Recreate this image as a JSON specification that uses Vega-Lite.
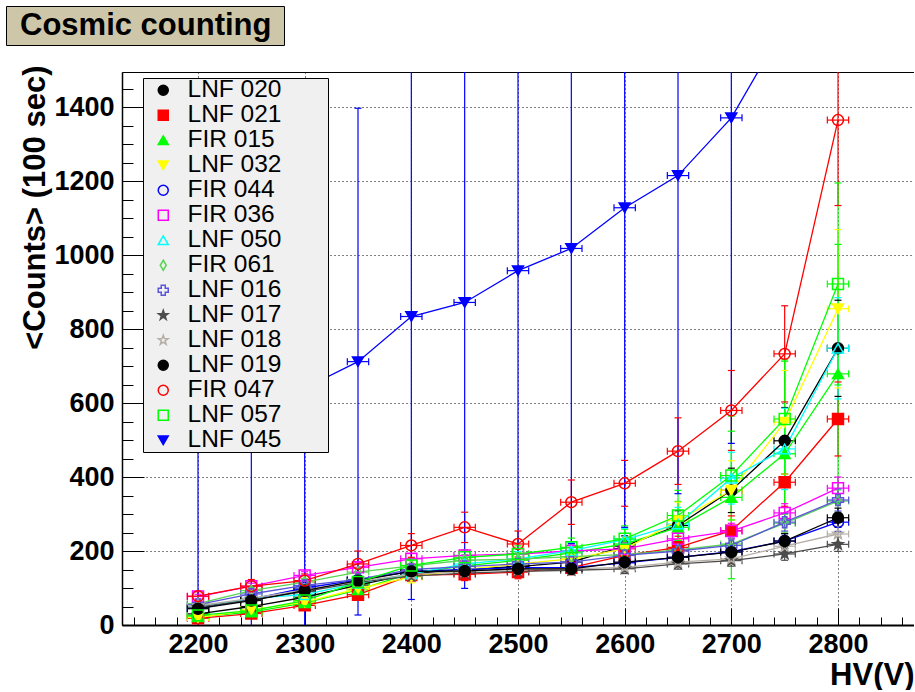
{
  "$schema": "https://vega.github.io/schema/vega-lite/v6.json",
  "padding": {"left": 5, "top": 5, "right": 0, "bottom": 0},
  "background": "white",
  "width": 792,
  "height": 553,
  "view": {"stroke": "black", "strokeWidth": 1},
  "datasets": {
    "pts": [
      {"s":"LNF 020","hv":2200,"v":30,"e":6},{"s":"LNF 020","hv":2250,"v":50,"e":8},{"s":"LNF 020","hv":2300,"v":75,"e":10},{"s":"LNF 020","hv":2350,"v":108,"e":13},{"s":"LNF 020","hv":2400,"v":138,"e":16},{"s":"LNF 020","hv":2450,"v":150,"e":18},{"s":"LNF 020","hv":2500,"v":158,"e":19},{"s":"LNF 020","hv":2550,"v":170,"e":20},{"s":"LNF 020","hv":2600,"v":213,"e":28},{"s":"LNF 020","hv":2650,"v":269,"e":40},{"s":"LNF 020","hv":2700,"v":364,"e":60},{"s":"LNF 020","hv":2750,"v":498,"e":90},{"s":"LNF 020","hv":2800,"v":748,"e":130},
      {"s":"LNF 021","hv":2200,"v":18,"e":5},{"s":"LNF 021","hv":2250,"v":31,"e":7},{"s":"LNF 021","hv":2300,"v":53,"e":9},{"s":"LNF 021","hv":2350,"v":82,"e":12},{"s":"LNF 021","hv":2400,"v":135,"e":16},{"s":"LNF 021","hv":2450,"v":137,"e":17},{"s":"LNF 021","hv":2500,"v":143,"e":18},{"s":"LNF 021","hv":2550,"v":155,"e":19},{"s":"LNF 021","hv":2600,"v":188,"e":24},{"s":"LNF 021","hv":2650,"v":210,"e":30},{"s":"LNF 021","hv":2700,"v":255,"e":40},{"s":"LNF 021","hv":2750,"v":386,"e":65},{"s":"LNF 021","hv":2800,"v":557,"e":100},
      {"s":"FIR 015","hv":2200,"v":22,"e":6},{"s":"FIR 015","hv":2250,"v":35,"e":8},{"s":"FIR 015","hv":2300,"v":60,"e":11},{"s":"FIR 015","hv":2350,"v":95,"e":14},{"s":"FIR 015","hv":2400,"v":140,"e":18},{"s":"FIR 015","hv":2450,"v":160,"e":20},{"s":"FIR 015","hv":2500,"v":175,"e":22},{"s":"FIR 015","hv":2550,"v":195,"e":25},{"s":"FIR 015","hv":2600,"v":219,"e":40},{"s":"FIR 015","hv":2650,"v":264,"e":70},{"s":"FIR 015","hv":2700,"v":345,"e":220},{"s":"FIR 015","hv":2750,"v":463,"e":250},{"s":"FIR 015","hv":2800,"v":679,"e":350},
      {"s":"LNF 032","hv":2200,"v":20,"e":6},{"s":"LNF 032","hv":2250,"v":41,"e":8},{"s":"LNF 032","hv":2300,"v":62,"e":10},{"s":"LNF 032","hv":2350,"v":98,"e":13},{"s":"LNF 032","hv":2400,"v":130,"e":16},{"s":"LNF 032","hv":2450,"v":150,"e":18},{"s":"LNF 032","hv":2500,"v":165,"e":20},{"s":"LNF 032","hv":2550,"v":179,"e":22},{"s":"LNF 032","hv":2600,"v":206,"e":30},{"s":"LNF 032","hv":2650,"v":282,"e":50},{"s":"LNF 032","hv":2700,"v":364,"e":80},{"s":"LNF 032","hv":2750,"v":548,"e":140},{"s":"LNF 032","hv":2800,"v":855,"e":214},
      {"s":"FIR 044","hv":2200,"v":45,"e":5},{"s":"FIR 044","hv":2250,"v":70,"e":6},{"s":"FIR 044","hv":2300,"v":100,"e":8},{"s":"FIR 044","hv":2350,"v":122,"e":10},{"s":"FIR 044","hv":2400,"v":145,"e":12},{"s":"FIR 044","hv":2450,"v":150,"e":12},{"s":"FIR 044","hv":2500,"v":155,"e":13},{"s":"FIR 044","hv":2550,"v":155,"e":13},{"s":"FIR 044","hv":2600,"v":168,"e":14},{"s":"FIR 044","hv":2650,"v":183,"e":16},{"s":"FIR 044","hv":2700,"v":198,"e":18},{"s":"FIR 044","hv":2750,"v":227,"e":20},{"s":"FIR 044","hv":2800,"v":278,"e":25},
      {"s":"FIR 036","hv":2200,"v":77,"e":6},{"s":"FIR 036","hv":2250,"v":105,"e":8},{"s":"FIR 036","hv":2300,"v":134,"e":10},{"s":"FIR 036","hv":2350,"v":156,"e":12},{"s":"FIR 036","hv":2400,"v":179,"e":14},{"s":"FIR 036","hv":2450,"v":188,"e":15},{"s":"FIR 036","hv":2500,"v":192,"e":15},{"s":"FIR 036","hv":2550,"v":200,"e":16},{"s":"FIR 036","hv":2600,"v":206,"e":17},{"s":"FIR 036","hv":2650,"v":233,"e":19},{"s":"FIR 036","hv":2700,"v":254,"e":21},{"s":"FIR 036","hv":2750,"v":303,"e":25},{"s":"FIR 036","hv":2800,"v":370,"e":30},
      {"s":"LNF 050","hv":2200,"v":48,"e":6},{"s":"LNF 050","hv":2250,"v":72,"e":8},{"s":"LNF 050","hv":2300,"v":82,"e":10},{"s":"LNF 050","hv":2350,"v":113,"e":13},{"s":"LNF 050","hv":2400,"v":138,"e":16},{"s":"LNF 050","hv":2450,"v":165,"e":18},{"s":"LNF 050","hv":2500,"v":179,"e":20},{"s":"LNF 050","hv":2550,"v":201,"e":22},{"s":"LNF 050","hv":2600,"v":231,"e":30},{"s":"LNF 050","hv":2650,"v":273,"e":45},{"s":"LNF 050","hv":2700,"v":397,"e":70},{"s":"LNF 050","hv":2750,"v":476,"e":110},{"s":"LNF 050","hv":2800,"v":748,"e":137},
      {"s":"FIR 061","hv":2200,"v":58,"e":6},{"s":"FIR 061","hv":2250,"v":93,"e":8},{"s":"FIR 061","hv":2300,"v":116,"e":10},{"s":"FIR 061","hv":2350,"v":143,"e":12},{"s":"FIR 061","hv":2400,"v":160,"e":14},{"s":"FIR 061","hv":2450,"v":175,"e":15},{"s":"FIR 061","hv":2500,"v":178,"e":15},{"s":"FIR 061","hv":2550,"v":185,"e":16},{"s":"FIR 061","hv":2600,"v":190,"e":16},{"s":"FIR 061","hv":2650,"v":203,"e":18},{"s":"FIR 061","hv":2700,"v":219,"e":20},{"s":"FIR 061","hv":2750,"v":275,"e":24},{"s":"FIR 061","hv":2800,"v":335,"e":30},
      {"s":"LNF 016","hv":2200,"v":55,"e":6},{"s":"LNF 016","hv":2250,"v":84,"e":8},{"s":"LNF 016","hv":2300,"v":107,"e":9},{"s":"LNF 016","hv":2350,"v":123,"e":11},{"s":"LNF 016","hv":2400,"v":150,"e":13},{"s":"LNF 016","hv":2450,"v":158,"e":14},{"s":"LNF 016","hv":2500,"v":165,"e":14},{"s":"LNF 016","hv":2550,"v":170,"e":15},{"s":"LNF 016","hv":2600,"v":188,"e":16},{"s":"LNF 016","hv":2650,"v":200,"e":18},{"s":"LNF 016","hv":2700,"v":215,"e":20},{"s":"LNF 016","hv":2750,"v":278,"e":24},{"s":"LNF 016","hv":2800,"v":338,"e":30},
      {"s":"LNF 017","hv":2200,"v":48,"e":5},{"s":"LNF 017","hv":2250,"v":68,"e":6},{"s":"LNF 017","hv":2300,"v":90,"e":8},{"s":"LNF 017","hv":2350,"v":115,"e":9},{"s":"LNF 017","hv":2400,"v":132,"e":11},{"s":"LNF 017","hv":2450,"v":140,"e":12},{"s":"LNF 017","hv":2500,"v":145,"e":12},{"s":"LNF 017","hv":2550,"v":148,"e":12},{"s":"LNF 017","hv":2600,"v":152,"e":13},{"s":"LNF 017","hv":2650,"v":165,"e":14},{"s":"LNF 017","hv":2700,"v":174,"e":15},{"s":"LNF 017","hv":2750,"v":192,"e":17},{"s":"LNF 017","hv":2800,"v":218,"e":19},
      {"s":"LNF 018","hv":2200,"v":52,"e":5},{"s":"LNF 018","hv":2250,"v":72,"e":6},{"s":"LNF 018","hv":2300,"v":95,"e":8},{"s":"LNF 018","hv":2350,"v":118,"e":9},{"s":"LNF 018","hv":2400,"v":137,"e":11},{"s":"LNF 018","hv":2450,"v":145,"e":12},{"s":"LNF 018","hv":2500,"v":150,"e":12},{"s":"LNF 018","hv":2550,"v":152,"e":12},{"s":"LNF 018","hv":2600,"v":156,"e":13},{"s":"LNF 018","hv":2650,"v":170,"e":14},{"s":"LNF 018","hv":2700,"v":179,"e":15},{"s":"LNF 018","hv":2750,"v":213,"e":18},{"s":"LNF 018","hv":2800,"v":246,"e":21},
      {"s":"LNF 019","hv":2200,"v":44,"e":5},{"s":"LNF 019","hv":2250,"v":66,"e":7},{"s":"LNF 019","hv":2300,"v":93,"e":9},{"s":"LNF 019","hv":2350,"v":120,"e":11},{"s":"LNF 019","hv":2400,"v":145,"e":13},{"s":"LNF 019","hv":2450,"v":146,"e":13},{"s":"LNF 019","hv":2500,"v":152,"e":14},{"s":"LNF 019","hv":2550,"v":152,"e":14},{"s":"LNF 019","hv":2600,"v":170,"e":15},{"s":"LNF 019","hv":2650,"v":183,"e":16},{"s":"LNF 019","hv":2700,"v":197,"e":18},{"s":"LNF 019","hv":2750,"v":227,"e":20},{"s":"LNF 019","hv":2800,"v":290,"e":26},
      {"s":"FIR 047","hv":2200,"v":78,"e":12},{"s":"FIR 047","hv":2250,"v":105,"e":18},{"s":"FIR 047","hv":2300,"v":120,"e":18},{"s":"FIR 047","hv":2350,"v":165,"e":35},{"s":"FIR 047","hv":2400,"v":215,"e":32},{"s":"FIR 047","hv":2450,"v":264,"e":41},{"s":"FIR 047","hv":2500,"v":219,"e":35},{"s":"FIR 047","hv":2550,"v":332,"e":60},{"s":"FIR 047","hv":2600,"v":383,"e":62},{"s":"FIR 047","hv":2650,"v":470,"e":90},{"s":"FIR 047","hv":2700,"v":580,"e":108},{"s":"FIR 047","hv":2750,"v":733,"e":130},{"s":"FIR 047","hv":2800,"v":1365,"e":231},
      {"s":"LNF 057","hv":2200,"v":26,"e":6},{"s":"LNF 057","hv":2250,"v":39,"e":8},{"s":"LNF 057","hv":2300,"v":66,"e":11},{"s":"LNF 057","hv":2350,"v":116,"e":15},{"s":"LNF 057","hv":2400,"v":161,"e":18},{"s":"LNF 057","hv":2450,"v":183,"e":20},{"s":"LNF 057","hv":2500,"v":192,"e":22},{"s":"LNF 057","hv":2550,"v":210,"e":25},{"s":"LNF 057","hv":2600,"v":233,"e":35},{"s":"LNF 057","hv":2650,"v":296,"e":68},{"s":"LNF 057","hv":2700,"v":404,"e":120},{"s":"LNF 057","hv":2750,"v":557,"e":160},{"s":"LNF 057","hv":2800,"v":922,"e":273},
      {"s":"LNF 045","hv":2200,"v":510,"e":800},{"s":"LNF 045","hv":2250,"v":570,"e":800},{"s":"LNF 045","hv":2300,"v":640,"e":800},{"s":"LNF 045","hv":2350,"v":712,"e":685},{"s":"LNF 045","hv":2400,"v":834,"e":765},{"s":"LNF 045","hv":2450,"v":872,"e":773},{"s":"LNF 045","hv":2500,"v":958,"e":803},{"s":"LNF 045","hv":2550,"v":1018,"e":798},{"s":"LNF 045","hv":2600,"v":1128,"e":864},{"s":"LNF 045","hv":2650,"v":1215,"e":860},{"s":"LNF 045","hv":2700,"v":1371,"e":880},{"s":"LNF 045","hv":2750,"v":1620,"e":100},{"s":"LNF 045","hv":2800,"v":1950,"e":100}
    ],
    "head": [{"t": "Cosmic counting", "t2": "Cosmic counting"}]
  },
  "data": {"name": "pts"},
  "transform": [
    {"calculate": "datum.v - datum.e", "as": "lo"},
    {"calculate": "datum.v + datum.e", "as": "hi"},
    {"calculate": "datum.hv - 10", "as": "xlo"},
    {"calculate": "datum.hv + 10", "as": "xhi"}
  ],
  "encoding": {
    "stroke": {
      "field": "s", "type": "nominal",
      "scale": {
        "domain": ["LNF 020","LNF 021","FIR 015","LNF 032","FIR 044","FIR 036","LNF 050","FIR 061","LNF 016","LNF 017","LNF 018","LNF 019","FIR 047","LNF 057","LNF 045"],
        "range": ["#000000","#ff0000","#00ff00","#ffff00","#0000ff","#ff00ff","#00ffff","#59d454","#5954d8","#4c4c4c","#b5aea6","#000000","#ff0000","#00ff00","#0000ff"]
      },
      "legend": {"title": "MM", "titleOrient": "right", "titleFontSize": 28, "titleAngle": 0, "titlePadding": 0, "titleAnchor": "start", "titleOpacity": 0}
    }
  },
  "resolve": {"axis": {"x": "independent", "y": "independent"}},
  "layer": [
    {
      "transform": [{"calculate": "datum.s", "as": "s2"}],
      "mark": {"type": "point", "opacity": 0},
      "encoding": {
        "stroke": {"value": "transparent"},
        "fillOpacity": {"field": "s2", "type": "ordinal", "scale": {"range": [0]},
          "legend": {"title": "MM", "titleOrient": "right", "titleFontSize": 28, "titleAngle": 0, "titlePadding": 0, "titleAnchor": "start", "titleOpacity": 0,
            "legendX": 25, "legendY": 10, "fillColor": "#000000", "strokeColor": "#000000", "labelOpacity": 0, "symbolOpacity": 0}}
      }
    },
    {
      "data": {"name": "head"},
      "mark": {"type": "point", "opacity": 0},
      "encoding": {
        "stroke": {"value": "transparent"},
        "strokeOpacity": {"field": "t2", "type": "ordinal", "scale": {"range": [0]},
          "legend": {"title": "M", "titleOrient": "right", "titleFontSize": 10, "titleAngle": 0, "titlePadding": 0, "titleAnchor": "start", "titleOpacity": 0,
            "orient": "none", "legendX": -113, "legendY": -63, "padding": 4,
            "fillColor": "#505050", "strokeColor": "#505050",
            "labelFont": "Liberation Sans", "labelFontSize": 31, "labelFontWeight": "bold", "labelOpacity": 0, "labelLimit": 400,
            "symbolSize": 0, "symbolOpacity": 0, "symbolOffset": -25, "labelOffset": 4}}
      }
    },
    {
      "mark": {"type": "rule", "clip": true, "strokeWidth": 1.2},
      "encoding": {
        "x": {"field": "hv", "type": "quantitative", "scale": {"domain": [2128.75, 2871.25], "nice": false, "zero": false},
          "axis": {"orient": "bottom", "values": [2200,2300,2400,2500,2600,2700,2800], "labels": false, "domain": false, "grid": false, "title": null, "tickSize": -17, "tickColor": "black", "tickWidth": 1}},
        "y": {"field": "lo", "type": "quantitative", "scale": {"domain": [0, 1495], "nice": false},
          "axis": {"orient": "left", "values": [0,200,400,600,800,1000,1200,1400], "labels": false, "domain": false, "grid": false, "title": null, "tickSize": -22, "tickColor": "black", "tickWidth": 1}},
        "y2": {"field": "hi"}
      }
    },
    {
      "mark": {"type": "rule", "clip": true, "strokeWidth": 1.2},
      "encoding": {
        "x": {"field": "xlo", "type": "quantitative", "scale": {"domain": [2128.75, 2871.25], "nice": false, "zero": false},
          "axis": {"orient": "bottom", "values": [2140,2160,2180,2220,2240,2260,2280,2320,2340,2360,2380,2420,2440,2460,2480,2520,2540,2560,2580,2620,2640,2660,2680,2720,2740,2760,2780,2820,2840,2860], "labels": false, "domain": false, "grid": false, "title": null, "tickSize": -8, "tickColor": "black", "tickWidth": 1}},
        "x2": {"field": "xhi"},
        "y": {"field": "v", "type": "quantitative", "scale": {"domain": [0, 1495], "nice": false},
          "axis": {"orient": "left", "values": [50,100,150,250,300,350,450,500,550,650,700,750,850,900,950,1050,1100,1150,1250,1300,1350,1450], "labels": false, "domain": false, "grid": false, "title": null, "tickSize": -11, "tickColor": "black", "tickWidth": 1}}
      }
    },
    {
      "transform": [{"fold": ["lo", "hi"], "as": ["k", "yv"]}],
      "mark": {"type": "point", "shape": "stroke", "clip": true, "filled": false, "opacity": 1, "size": 49, "strokeWidth": 1.2},
      "encoding": {
        "x": {"field": "hv", "type": "quantitative", "scale": {"domain": [2128.75, 2871.25], "nice": false, "zero": false}, "axis": null},
        "y": {"field": "yv", "type": "quantitative", "scale": {"domain": [0, 1495], "nice": false}, "axis": null}
      }
    },
    {
      "transform": [{"fold": ["xlo", "xhi"], "as": ["k", "xv"]}],
      "mark": {"type": "point", "shape": "stroke", "angle": 90, "clip": true, "filled": false, "opacity": 1, "size": 49, "strokeWidth": 1.2},
      "encoding": {
        "x": {"field": "xv", "type": "quantitative", "scale": {"domain": [2128.75, 2871.25], "nice": false, "zero": false}, "axis": null},
        "y": {"field": "v", "type": "quantitative", "scale": {"domain": [0, 1495], "nice": false}, "axis": null}
      }
    },
    {
      "mark": {"type": "line", "clip": true, "strokeWidth": 1.3},
      "encoding": {
        "x": {"field": "hv", "type": "quantitative", "scale": {"domain": [2128.75, 2871.25], "nice": false, "zero": false}, "axis": null},
        "y": {"field": "v", "type": "quantitative", "scale": {"domain": [0, 1495], "nice": false}, "axis": null}
      }
    },
    {
      "mark": {"type": "point", "clip": true, "opacity": 1, "size": 120, "strokeWidth": 1.5},
      "encoding": {
        "x": {"field": "hv", "type": "quantitative", "scale": {"domain": [2128.75, 2871.25], "nice": false, "zero": false},
          "axis": {
            "orient": "bottom",
            "values": [2200,2300,2400,2500,2600,2700,2800],
            "format": "d",
            "title": "HV(V)",
            "titleFont": "Liberation Sans", "titleFontWeight": "bold", "titleFontSize": 31, "titleColor": "black",
            "titleAlign": "right", "titleBaseline": "alphabetic", "titleX": 792, "titleY": 59,
            "labelFont": "Liberation Sans", "labelFontWeight": "bold", "labelFontSize": 27, "labelColor": "black",
            "labelPadding": 6, "labelFlush": false, "labelOverlap": false, "labelBaseline": "top",
            "ticks": false,
            "domainColor": "black", "domainWidth": 2,
            "grid": true, "gridColor": "black", "gridDash": [1, 3], "gridWidth": 1
          }},
        "y": {"field": "v", "type": "quantitative", "scale": {"domain": [0, 1495], "nice": false},
          "axis": {
            "orient": "left",
            "values": [0,200,400,600,800,1000,1200,1400],
            "format": "d",
            "title": "<Counts> (100 sec)",
            "titleFont": "Liberation Sans", "titleFontWeight": "bold", "titleFontSize": 31, "titleColor": "black",
            "titleAngle": -90, "titleAlign": "right", "titleBaseline": "alphabetic", "titleX": -78, "titleY": -7,
            "labelFont": "Liberation Sans", "labelFontWeight": "bold", "labelFontSize": 27, "labelColor": "black",
            "labelPadding": 8, "labelFlush": false, "labelOverlap": false,
            "ticks": false,
            "domainColor": "black", "domainWidth": 1.5,
            "grid": true, "gridColor": "black", "gridDash": [1, 3], "gridWidth": 1,
            "gridOpacity": {"condition": {"test": "datum.value > 0", "value": 1}, "value": 0}
          }},
        "fill": {"field": "s", "type": "nominal",
          "scale": {
            "domain": ["LNF 020","LNF 021","FIR 015","LNF 032","FIR 044","FIR 036","LNF 050","FIR 061","LNF 016","LNF 017","LNF 018","LNF 019","FIR 047","LNF 057","LNF 045"],
            "range": ["#000000","#ff0000","#00ff00","#ffff00","transparent","transparent","transparent","transparent","transparent","#4c4c4c","transparent","#000000","transparent","transparent","#0000ff"]
          },
          "legend": {"title": "MM", "titleOrient": "right", "titleFontSize": 28, "titleAngle": 0, "titlePadding": 0, "titleAnchor": "start", "titleOpacity": 0}},
        "shape": {"field": "s", "type": "nominal",
          "scale": {
            "domain": ["LNF 020","LNF 021","FIR 015","LNF 032","FIR 044","FIR 036","LNF 050","FIR 061","LNF 016","LNF 017","LNF 018","LNF 019","FIR 047","LNF 057","LNF 045"],
            "range": ["circle","square","triangle-up","triangle-down","circle","square","triangle-up","M0,-1L0.6,0L0,1L-0.6,0Z","cross","M0,-1L0.235,-0.324L0.951,-0.309L0.38,0.124L0.588,0.809L0,0.4L-0.588,0.809L-0.38,0.124L-0.951,-0.309L-0.235,-0.324Z","M0,-1L0.235,-0.324L0.951,-0.309L0.38,0.124L0.588,0.809L0,0.4L-0.588,0.809L-0.38,0.124L-0.951,-0.309L-0.235,-0.324Z","circle","circle","square","triangle-down"]
          },
          "legend": {"title": "MM", "titleOrient": "right", "titleFontSize": 28, "titleAngle": 0, "titlePadding": 0, "titleAnchor": "start", "titleOpacity": 0}}
      }
    },
    {
      "data": {"name": "head"},
      "mark": {"type": "point", "opacity": 0},
      "encoding": {
        "stroke": {"value": "transparent"},
        "opacity": {"field": "t", "type": "ordinal", "scale": {"range": [0]},
          "legend": {"title": "M", "titleOrient": "right", "titleFontSize": 10, "titleAngle": 0, "titlePadding": 0, "titleAnchor": "start", "titleOpacity": 0,
            "orient": "none", "legendX": -116, "legendY": -66, "padding": 4,
            "fillColor": "#cec6a8", "strokeColor": "black",
            "labelFont": "Liberation Sans", "labelFontSize": 31, "labelFontWeight": "bold", "labelColor": "black", "labelLimit": 400,
            "symbolSize": 0, "symbolOffset": -25, "labelOffset": 4}}
      }
    }
  ],
  "config": {
    "font": "Liberation Sans",
    "view": {"stroke": null},
    "legend": {
      "orient": "none", "legendX": 21, "legendY": 6, "padding": 0,
      "fillColor": "#f0f0f0", "strokeColor": "black", "strokeWidth": 1,
      "labelFont": "Liberation Sans", "labelFontSize": 24.5, "labelColor": "black", "labelLimit": 300,
      "symbolSize": 100, "symbolStrokeWidth": 1.5, "symbolOpacity": 1, "symbolOffset": 8, "labelOffset": 12, "rowPadding": 0
    }
  }
}
